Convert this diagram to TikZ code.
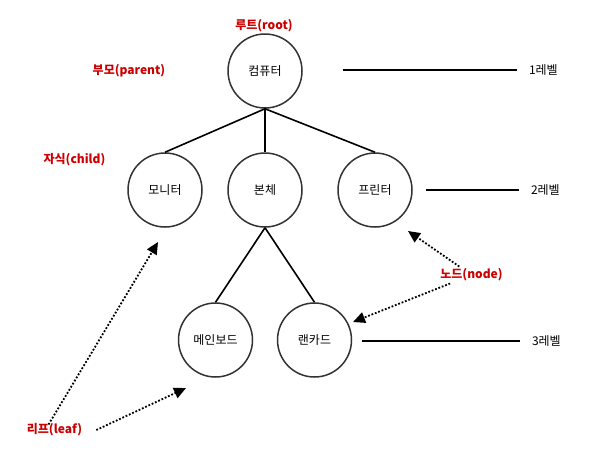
\documentclass[tikz,border=0pt]{standalone}
\usepackage{fontspec}
\setmainfont{Noto Sans CJK KR}
\usetikzlibrary{arrows.meta}

\begin{document}
\begin{tikzpicture}[x=1pt,y=-1pt]
\tikzstyle{every node}=[font=\fontsize{12}{14}\selectfont]
\tikzstyle{vertex}=[circle,draw=black!80,line width=1.5pt,minimum size=74pt,
  inner sep=0pt]
\tikzstyle{branch}=[line width=1.6pt]
\tikzstyle{levelline}=[line width=1.6pt]
\tikzstyle{leveltext}=[anchor=west,inner sep=2pt,outer sep=10pt]
\tikzstyle{tag}=[text=red!80!black,font=\fontsize{12}{14}\selectfont\bfseries,
  inner sep=2pt]
\tikzstyle{dotarrow}=[line width=1.8pt,dash pattern=on 1.8pt off 1.8pt,
  -{Triangle[length=12pt,width=11pt]}]

\useasboundingbox (0,0) rectangle (613,464);

%tree nodes
\node[vertex] (pc) at (265,71) {컴퓨터};
\node[vertex] (mon) at (165,190) {모니터};
\node[vertex] (body) at (265,190) {본체};
\node[vertex] (prn) at (375,190) {프린터};
\node[vertex] (board) at (215.5,340) {메인보드};
\node[vertex] (lan) at (314.5,340) {랜카드};

%branches
\draw[branch] (pc.south) -- (mon.north);
\draw[branch] (pc.south) -- (body.north);
\draw[branch] (pc.south) -- (prn.north);
\draw[branch] (body.south) -- (board.north);
\draw[branch] (body.south) -- (lan.north);

%levels
\coordinate (l1) at (343,70);
\coordinate (l2) at (426,190);
\coordinate (l3) at (362,341);
\node[leveltext] (lvl1) at (517,70) {1레벨};
\node[leveltext] (lvl2) at (519,190) {2레벨};
\node[leveltext] (lvl3) at (520,341) {3레벨};
\draw[levelline] (l1) -- (lvl1);
\draw[levelline] (l2) -- (lvl2);
\draw[levelline] (l3) -- (lvl3);

%red names
\node[tag] (root) at (264,26) {루트(root)};
\node[tag] (parent) at (129,71) {부모(parent)};
\node[tag] (child) at (74.5,160) {자식(child)};
\node[tag] (nodetag) at (471.5,275) {노드(node)};
\node[tag] (leaf) at (54.5,430) {리프(leaf)};

%dotted pointers
\coordinate (tipprn) at (408,231);
\coordinate (tiplan) at (353,322);
\coordinate (tipmon) at (158,242);
\coordinate (tipboard) at (186,388);
\draw[dotarrow] (nodetag) -- (tipprn);
\draw[dotarrow] (nodetag) -- (tiplan);
\draw[dotarrow] ([xshift=-6pt,yshift=-3pt]leaf.north) -- (tipmon);
\draw[dotarrow] ([xshift=12pt]leaf.east) -- (tipboard);

\end{tikzpicture}
\end{document}
